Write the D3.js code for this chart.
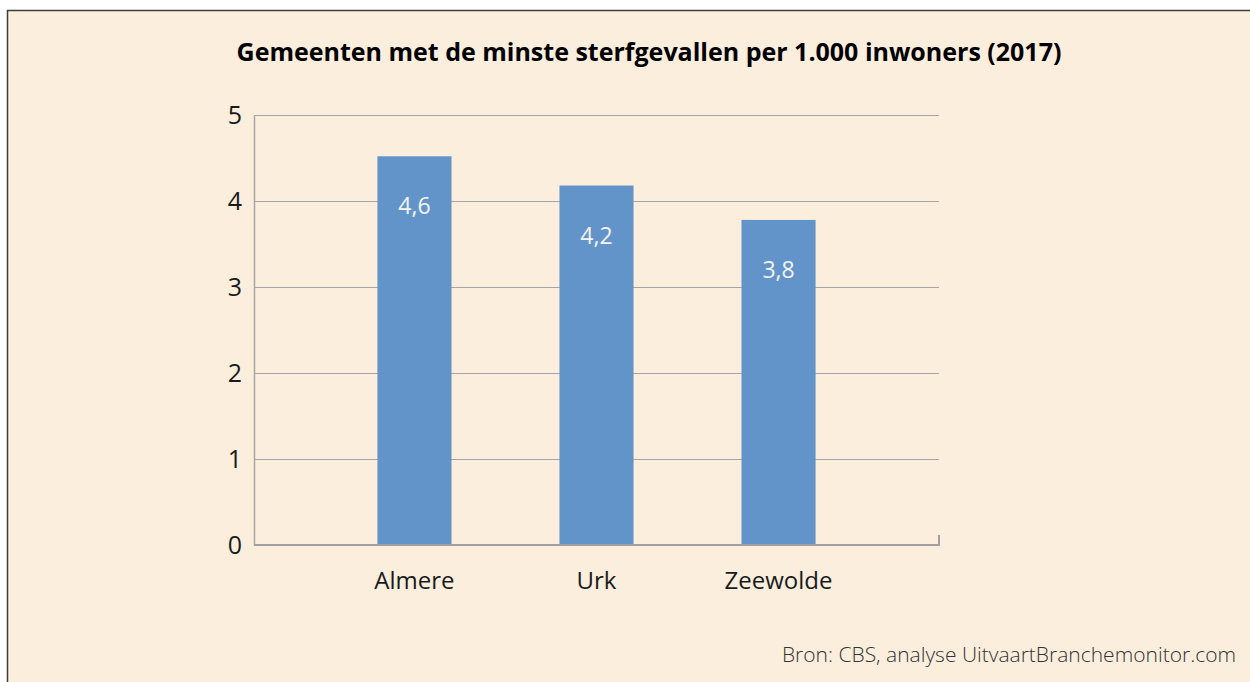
<!DOCTYPE html>
<html>
<head>
<meta charset="utf-8">
<script src="https://cdn.jsdelivr.net/npm/d3@7"></script>
<style>
  body { margin: 0; background: #fff; }
  text { font-family: "Open Sans", "Noto Sans", sans-serif; }
</style>
</head>
<body>
<div id="chart"></div>
<script>
const categories = ["Almere", "Urk", "Zeewolde"];
const values = [4.52, 4.18, 3.78];
const valueLabels = ["4,6", "4,2", "3,8"];
const yTicks = [0, 1, 2, 3, 4, 5];
const title = "Gemeenten met de minste sterfgevallen per 1.000 inwoners (2017)";
const source = "Bron: CBS, analyse UitvaartBranchemonitor.com";

const width = 1250;
const height = 682;
const plot = { left: 254, right: 939, top: 115, bottom: 545 };

const svg = d3.select("#chart")
  .append("svg")
  .attr("width", width)
  .attr("height", height);

// panel
svg.append("rect")
  .attr("x", 7.5)
  .attr("y", 10.5)
  .attr("width", 1400)
  .attr("height", 800)
  .attr("fill", "#fbeedd")
  .attr("stroke", "#3c3c3c")
  .attr("stroke-width", 1.5);

svg.append("text")
  .attr("x", 649)
  .attr("y", 61)
  .attr("text-anchor", "middle")
  .style("font-weight", "bold")
  .style("font-size", "25px")
  .attr("fill", "#000")
  .text(title);

const yScale = d3.scaleLinear()
  .domain([0, 5])
  .range([plot.bottom, plot.top]);

const xScale = d3.scaleBand()
  .domain(categories)
  .range([plot.left, plot.right])
  .paddingInner(0.593)
  .paddingOuter(0.678);

// gridlines
svg.append("g")
  .selectAll("line")
  .data(yTicks.filter(d => d > 0))
  .join("line")
  .attr("x1", plot.left)
  .attr("x2", plot.right)
  .attr("y1", d => yScale(d) + 0.5)
  .attr("y2", d => yScale(d) + 0.5)
  .attr("stroke", "#a6a6a6")
  .attr("stroke-width", 1);

// y axis
const yAxis = d3.axisLeft(yScale)
  .tickValues(yTicks)
  .tickSize(0)
  .tickPadding(12)
  .tickFormat(d3.format("d"));

svg.append("g")
  .attr("class", "y-axis")
  .attr("transform", `translate(${plot.left}, 0)`)
  .call(yAxis)
  .call(g => g.select(".domain").attr("stroke", "#a6a6a6").attr("stroke-width", 1.5))
  .call(g => g.selectAll("text")
    .style("font-size", "25px")
    .attr("fill", "#1a1a1a"));

// bars
svg.append("g")
  .selectAll("rect")
  .data(categories)
  .join("rect")
  .attr("x", d => xScale(d))
  .attr("y", (d, i) => yScale(values[i]))
  .attr("width", xScale.bandwidth())
  .attr("height", (d, i) => yScale(0) - yScale(values[i]))
  .attr("fill", "#6394c9");

// value labels
svg.append("g")
  .selectAll("text")
  .data(categories)
  .join("text")
  .attr("x", d => xScale(d) + xScale.bandwidth() / 2)
  .attr("y", (d, i) => yScale(values[i]) + 58)
  .attr("text-anchor", "middle")
  .style("font-size", "23px")
  .attr("fill", "#f4f4f4")
  .text((d, i) => valueLabels[i]);

// x axis
const xAxis = d3.axisBottom(xScale)
  .tickSize(0)
  .tickPadding(27);

svg.append("g")
  .attr("class", "x-axis")
  .attr("transform", `translate(0, ${plot.bottom})`)
  .call(xAxis)
  .call(g => g.select(".domain").remove())
  .call(g => g.selectAll("text")
    .style("font-size", "24px")
    .attr("fill", "#1a1a1a"));

// baseline with end tick
svg.append("path")
  .attr("d", `M${plot.left},${plot.bottom}H${plot.right}V${plot.bottom - 10}`)
  .attr("fill", "none")
  .attr("stroke", "#a0a0a0")
  .attr("stroke-width", 2);

svg.append("text")
  .attr("x", 1236)
  .attr("y", 662)
  .attr("text-anchor", "end")
  .style("font-size", "21px")
  .style("font-weight", 300)
  .attr("fill", "#333")
  .text(source);
</script>
</body>
</html>
